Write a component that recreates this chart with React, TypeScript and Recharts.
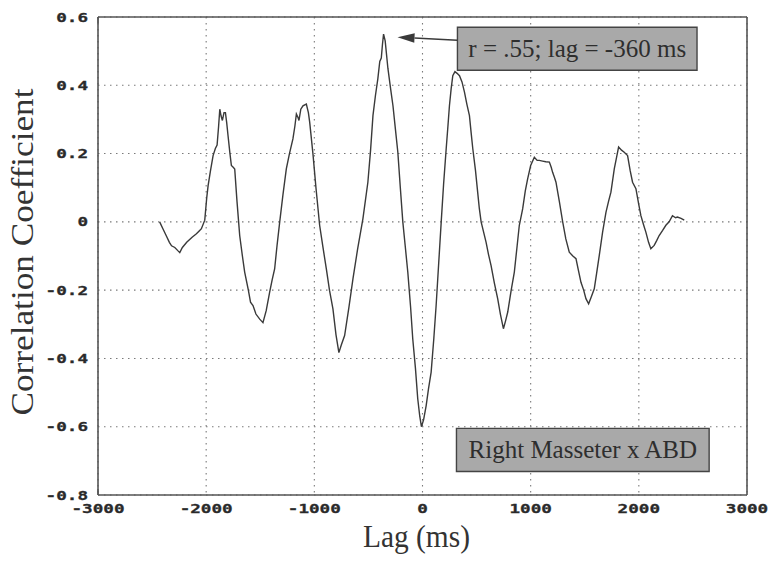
import {
  CartesianGrid,
  Label,
  Line,
  LineChart,
  ReferenceArea,
  ReferenceLine,
  XAxis,
  YAxis,
} from "recharts";

// lag (ms) and correlation
const lags = [
  -2430, -2400, -2370, -2340, -2320, -2290, -2260, -2244, -2220, -2180, -2130, -2090, -2060,
  -2044, -2013, -1995, -1982, -1960, -1936, -1915, -1899, -1885, -1874, -1862, -1850, -1835,
  -1822, -1810, -1798, -1780, -1767, -1750, -1736, -1715, -1690, -1665, -1644, -1610, -1590,
  -1567, -1540, -1505, -1490, -1475, -1445, -1413, -1390, -1367, -1345, -1320, -1290, -1259,
  -1230, -1198, -1180, -1166, -1150, -1142, -1125, -1105, -1074, -1055, -1043, -1013, -985,
  -951, -920, -889, -860, -828, -800, -773, -750, -720, -680, -643, -600, -551, -505, -480,
  -458, -435, -413, -395, -381, -370, -360, -345, -320, -295, -273, -250, -228, -205, -182,
  -160, -136, -110, -90, -65, -44, -25, -10, 10, 34, 55, 80, 105, 126, 150, 173, 195, 219,
  235, 249, 265, 280, 300, 320, 342, 365, 388, 410, 434, 450, 465, 490, 510, 525, 542, 565,
  588, 610, 634, 665, 695, 720, 748, 768, 788, 820, 849, 875, 895, 926, 950, 972, 1000, 1034,
  1060, 1080, 1110, 1140, 1173, 1190, 1203, 1220, 1234, 1265, 1296, 1325, 1357, 1390, 1419,
  1440, 1465, 1490, 1511, 1536, 1560, 1588, 1610, 1634, 1665, 1696, 1720, 1742, 1773, 1795,
  1813, 1840, 1865, 1896, 1920, 1942, 1973, 2000, 2019, 2045, 2065, 2090, 2111, 2142, 2165,
  2188, 2220, 2250, 2280, 2311, 2340, 2357, 2390, 2420,
];

const coeffs = [
  0.0, -0.02, -0.04, -0.06, -0.07, -0.075, -0.085, -0.09, -0.075, -0.06, -0.045, -0.035, -0.025,
  -0.02, 0.005, 0.07, 0.106, 0.15, 0.194, 0.215, 0.225, 0.28, 0.33, 0.31, 0.297, 0.32, 0.32,
  0.29, 0.253, 0.2, 0.165, 0.16, 0.155, 0.06, -0.04, -0.1, -0.147, -0.2, -0.235, -0.245, -0.27,
  -0.285, -0.29, -0.295, -0.26, -0.206, -0.17, -0.138, -0.07, 0.0, 0.08, 0.155, 0.2, 0.243,
  0.28, 0.316, 0.305, 0.297, 0.33, 0.34, 0.345, 0.32, 0.292, 0.2, 0.1, -0.01, -0.075, -0.138,
  -0.2, -0.255, -0.33, -0.383, -0.36, -0.333, -0.25, -0.167, -0.08, 0.009, 0.116, 0.21, 0.311,
  0.37, 0.419, 0.47, 0.48, 0.52, 0.55, 0.53, 0.45, 0.39, 0.34, 0.27, 0.204, 0.1, 0.0, -0.07,
  -0.147, -0.25, -0.343, -0.43, -0.518, -0.57, -0.6, -0.58, -0.538, -0.49, -0.44, -0.34,
  -0.245, -0.12, 0.0, 0.11, 0.214, 0.28, 0.34, 0.39, 0.428, 0.44, 0.435, 0.428, 0.41, 0.38,
  0.345, 0.311, 0.26, 0.214, 0.15, 0.087, 0.04, 0.0, -0.03, -0.06, -0.095, -0.128, -0.18,
  -0.225, -0.27, -0.313, -0.29, -0.264, -0.2, -0.147, -0.07, -0.01, 0.038, 0.09, 0.126, 0.165,
  0.189, 0.18, 0.18, 0.178, 0.176, 0.175, 0.16, 0.145, 0.13, 0.116, 0.06, 0.0, -0.05, -0.089,
  -0.1, -0.108, -0.14, -0.177, -0.2, -0.225, -0.24, -0.22, -0.196, -0.15, -0.099, -0.03, 0.028,
  0.06, 0.087, 0.155, 0.19, 0.219, 0.21, 0.204, 0.194, 0.15, 0.116, 0.097, 0.05, 0.018, -0.01,
  -0.03, -0.06, -0.079, -0.069, -0.055, -0.04, -0.025, -0.01, 0.0, 0.018, 0.012, 0.014, 0.01,
  0.005,
];

const xTicks = [-3000, -2000, -1000, 0, 1000, 2000, 3000];
const yTicks = [-0.8, -0.6, -0.4, -0.2, 0, 0.2, 0.4, 0.6];

// annotation boxes, in data units
const peakBox = { x1: 323, x2: 2538, y1: 0.444, y2: 0.57, text: "r = .55; lag = -360 ms" };
const nameBox = { x1: 314, x2: 2650, y1: -0.731, y2: -0.605, text: "Right Masseter x ABD" };
const arrow = [
  { x: 323, y: 0.532 },
  { x: -231, y: 0.541 },
];

const data = lags.map((lag, i) => ({ lag, r: coeffs[i] }));

const INK = "#3a3a3a";
const FRAME = "#555";
const MONO = "'DejaVu Sans Mono', monospace";
const SERIF = "'Liberation Serif', 'Times New Roman', serif";
const CHAR_W = 10.6;

function fmtY(v: number) {
  return v === 0 ? "0" : v.toFixed(1);
}

function XTick({ x, y, payload }: any) {
  const s = String(payload.value);
  const w = s.length * CHAR_W;
  return (
    <text
      x={x - w / 2}
      y={y + 18}
      fontFamily={MONO}
      fontWeight="bold"
      fontSize={12.5}
      fill="#2a2a2a"
      stroke="#2a2a2a"
      strokeWidth={0.3}
      textLength={w}
      lengthAdjust="spacingAndGlyphs"
    >
      {s}
    </text>
  );
}

function YTick({ x, y, payload }: any) {
  const s = fmtY(payload.value);
  const w = s.length * CHAR_W;
  return (
    <text
      x={x - w}
      y={y + 4.5}
      fontFamily={MONO}
      fontWeight="bold"
      fontSize={12.5}
      fill="#2a2a2a"
      stroke="#2a2a2a"
      strokeWidth={0.3}
      textLength={w}
      lengthAdjust="spacingAndGlyphs"
    >
      {s}
    </text>
  );
}

const NoTick = () => <g />;

function ArrowShape({ x1, y1, x2, y2 }: any) {
  const a = Math.atan2(y2 - y1, x2 - x1);
  const len = 17;
  const half = 4.7;
  const bx = x2 - len * Math.cos(a);
  const by = y2 - len * Math.sin(a);
  const px = -Math.sin(a) * half;
  const py = Math.cos(a) * half;
  return (
    <g>
      <line x1={x1} y1={y1} x2={bx} y2={by} stroke={INK} strokeWidth={1.4} />
      <polygon
        points={`${x2},${y2} ${bx + px},${by + py} ${bx - px},${by - py}`}
        fill={INK}
      />
    </g>
  );
}

function BoxText({ viewBox, value }: any) {
  const cx = viewBox.x + viewBox.width / 2;
  const cy = viewBox.y + viewBox.height / 2;
  return (
    <text
      x={cx}
      y={cy + 8}
      textAnchor="middle"
      fontFamily={SERIF}
      fontSize={25}
      fill="#2e2e2e"
    >
      {value}
    </text>
  );
}

export default function App() {
  return (
    <div style={{ position: "absolute", left: 0, top: 0, background: "#fff" }}>
      <LineChart
        width={773}
        height={564}
        data={data}
        margin={{ top: 17, right: 26, bottom: 0, left: 0 }}
      >
        <CartesianGrid stroke="#7a7a7a" strokeDasharray="1.5 4.5" strokeWidth={1.1} />
        <XAxis
          dataKey="lag"
          type="number"
          domain={[-3000, 3000]}
          ticks={xTicks}
          allowDataOverflow
          height={69}
          tickLine={false}
          tickSize={0}
          tickMargin={0}
          axisLine={{ stroke: FRAME, strokeWidth: 1.6 }}
          tick={<XTick />}
        >
          <Label
            content={({ viewBox }: any) => (
              <text
                x={viewBox.x + viewBox.width / 2 - 6}
                y={547}
                textAnchor="middle"
                fontFamily={SERIF}
                fontSize={31}
                fill="#333"
                textLength={107}
                lengthAdjust="spacingAndGlyphs"
              >
                Lag (ms)
              </text>
            )}
          />
        </XAxis>
        <XAxis
          xAxisId="xin"
          type="number"
          domain={[-3000, 3000]}
          ticks={xTicks}
          mirror
          axisLine={false}
          tick={<NoTick />}
          tickSize={6}
          tickLine={{ stroke: FRAME, strokeWidth: 1.3 }}
        />
        <XAxis
          xAxisId="top"
          orientation="top"
          type="number"
          domain={[-3000, 3000]}
          ticks={xTicks}
          mirror
          tick={<NoTick />}
          tickSize={6}
          tickLine={{ stroke: FRAME, strokeWidth: 1.3 }}
          axisLine={{ stroke: FRAME, strokeWidth: 1.6 }}
        />
        <YAxis
          type="number"
          domain={[-0.8, 0.6]}
          ticks={yTicks}
          allowDataOverflow
          width={98}
          tickLine={false}
          tickSize={0}
          tickMargin={10}
          axisLine={{ stroke: FRAME, strokeWidth: 1.6 }}
          tick={<YTick />}
        >
          <Label
            content={({ viewBox }: any) => {
              const cx = 33;
              const cy = viewBox.y + viewBox.height / 2 - 4;
              return (
                <text
                  x={cx}
                  y={cy}
                  textAnchor="middle"
                  transform={`rotate(-90, ${cx}, ${cy})`}
                  fontFamily={SERIF}
                  fontSize={31}
                  fill="#333"
                  textLength={327}
                  lengthAdjust="spacingAndGlyphs"
                >
                  Correlation Coefficient
                </text>
              );
            }}
          />
        </YAxis>
        <YAxis
          yAxisId="yin"
          type="number"
          domain={[-0.8, 0.6]}
          ticks={yTicks}
          mirror
          axisLine={false}
          tick={<NoTick />}
          tickSize={6}
          tickLine={{ stroke: FRAME, strokeWidth: 1.3 }}
        />
        <YAxis
          yAxisId="right"
          orientation="right"
          type="number"
          domain={[-0.8, 0.6]}
          ticks={yTicks}
          mirror
          tick={<NoTick />}
          tickSize={6}
          tickLine={{ stroke: FRAME, strokeWidth: 1.3 }}
          axisLine={{ stroke: FRAME, strokeWidth: 1.6 }}
        />
        <Line
          type="linear"
          dataKey="r"
          stroke={INK}
          strokeWidth={1.4}
          dot={false}
          isAnimationActive={false}
        />
        <ReferenceArea
          x1={peakBox.x1}
          x2={peakBox.x2}
          y1={peakBox.y1}
          y2={peakBox.y2}
          fill="#a9a9a9"
          fillOpacity={1}
          stroke="#444"
          strokeWidth={1.4}
          ifOverflow="visible"
          label={<BoxText value={peakBox.text} />}
        />
        <ReferenceArea
          x1={nameBox.x1}
          x2={nameBox.x2}
          y1={nameBox.y1}
          y2={nameBox.y2}
          fill="#a9a9a9"
          fillOpacity={1}
          stroke="#444"
          strokeWidth={1.4}
          ifOverflow="visible"
          label={<BoxText value={nameBox.text} />}
        />
        <ReferenceLine segment={arrow} ifOverflow="visible" shape={<ArrowShape />} />
      </LineChart>
    </div>
  );
}
